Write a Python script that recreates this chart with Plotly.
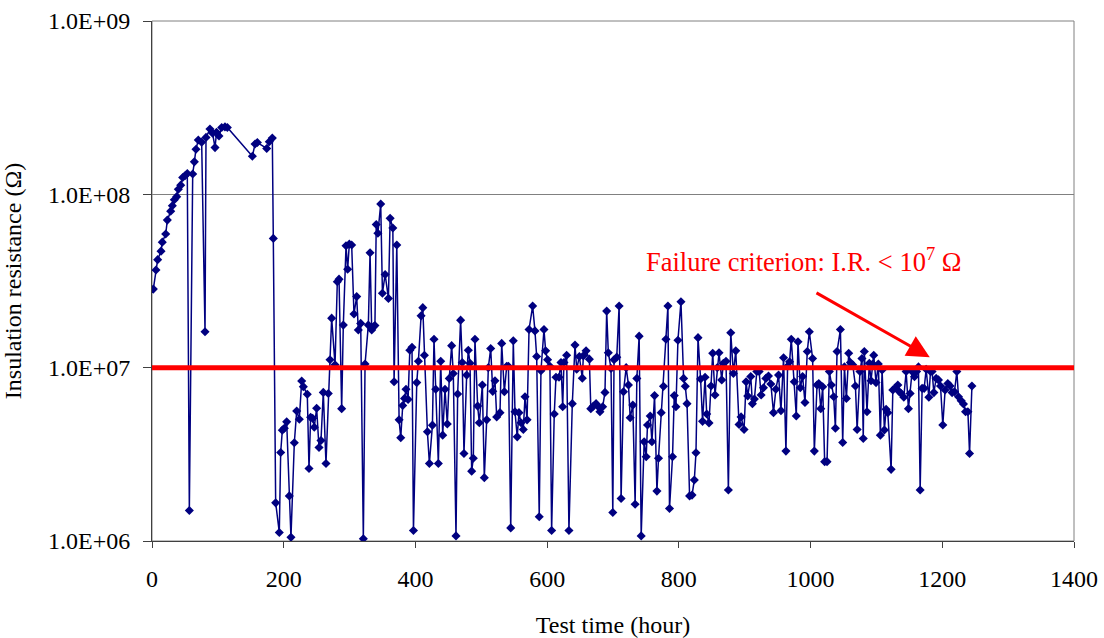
import math
import plotly.graph_objects as go

# Insulation resistance measured during the test (hours, megaohms)
test_hours = [
    2, 6, 8.6, 13.7, 15.6, 20.8, 23.3, 28.4, 30.9, 33.9, 37.5, 40, 43.6, 46.6, 50.1, 53.6,
    56.7, 61.8, 64.3, 66.8, 70.3, 75.4, 80.5, 82, 88, 92, 95.7, 98, 101.7, 105.8, 110.8, 114.4,
    152.4, 156.5, 160, 174.2, 178.1, 182.7, 184.2,
    187.8, 193.3, 195.4, 197.9, 200.9, 204.5, 208.5, 211, 216.1, 219.7, 223.7, 227.3, 229.8,
    235.8, 238.4, 240.9, 244, 246.4, 250, 253.6, 256.6, 260.1, 264.2, 267.7, 270.3, 272.8,
    277.9, 281.4, 284, 288, 290.5, 294.6, 297.1, 299.6, 303.2, 306.7, 310.8, 313.3, 316.9,
    320.9, 323.5, 328.5, 331.1, 333.6, 336.2, 338.5, 340.5, 343, 347.3, 349.9, 354, 359,
    361.6, 365.7, 367.6, 371.7, 375.2, 377.7, 380.7, 383.5, 385.7, 388.8, 391.5, 394.8, 397,
    402, 404.5, 408.6, 411.2, 413.6, 418.2, 421.2, 425.8, 428.2, 430.8, 434.8, 438.4, 441.4,
    444.9, 448.4, 451.4, 455, 457.5, 461.6, 464.1, 468.6, 471.1, 473.7, 477.8, 480.3, 482.9,
    485.4, 487.9, 490.4, 494.5, 497, 501.6, 504.6, 508.2, 510.7, 514.3, 517.4, 520.8, 523.4,
    528.4, 531, 535, 538.6, 541.2, 544.7, 548.6, 551.2, 554.6, 557.2, 560.3, 563.8, 566.4,
    569.5, 572.5, 578, 581.5, 584.1, 588, 590.6, 595.2, 597.7, 600.7, 604.2, 606.8, 610.8,
    613.4, 618, 621, 623.6, 625.5, 629.6, 633.1, 638.2, 642.3, 644.9, 648.9, 653.4, 655,
    659.1, 664.1, 666.3, 670.2, 674.3, 676.8, 680.2, 684.3, 687.8, 690.4, 692.9, 697, 699.7,
    701.6, 705.7, 709.3, 712.3, 715.9, 720, 723.5, 726.1, 730.1, 733.6, 736.2, 739.7, 742.8,
    747.3, 750.4, 752.4, 756.5, 759.1, 763.1, 766.7, 769.1, 773.2, 776.7, 780.4, 783.4, 785.8,
    790.4, 793, 795.6, 798.6, 803.2, 807.2, 809.8, 812.4, 816.3, 820, 823.5, 826, 829.1,
    833, 836, 839.8, 842.3, 845.8, 848.9, 851.4, 854.9, 858.4, 861, 865.1, 867.6, 871.6,
    875.2, 878.8, 882.8, 886.4, 891.4, 894.5, 899, 902.1, 904.6, 909.2, 911.7, 914.7, 918.4,
    921.9, 924.9, 928.5, 932.1, 936.1, 939.7, 943.7, 947.3, 951.4, 955, 959, 962.6, 965.1,
    968.1, 970.7, 975.3, 978.3, 980.9, 984.4, 987.9, 991.5, 995, 998.1, 1003.1, 1005.7, 1009.8,
    1012.5, 1015.5, 1018.4, 1021.4, 1025, 1028.5, 1031.6, 1035.1, 1037.7, 1040.2, 1045.3,
    1048.8, 1051.4, 1054.4, 1057.9, 1060.5, 1064, 1068.1, 1070.7, 1075, 1078, 1080, 1081.6,
    1085.7, 1089.2, 1091.8, 1094.4, 1095.9, 1099.4, 1102.9, 1106, 1108.6, 1112.1, 1114.7,
    1117.3, 1122.3, 1124.9, 1128.8, 1132.5, 1134.9, 1137.5, 1141.6, 1145.1, 1148.6, 1151.2,
    1154.2, 1157.8, 1161, 1163.8, 1166.4, 1169.4, 1172.5, 1175.5, 1179.6, 1182.1, 1184.5,
    1187.2, 1190.7, 1194.2, 1197.3, 1200.8, 1204.3, 1208.4, 1211.9, 1214.9, 1218.5, 1222.1,
    1224.6, 1228.7, 1232.2, 1235.3, 1238.9, 1241.4, 1245,
]

resistance_mohm = [
    28.4, 36.6, 42, 47, 53, 59, 71, 80, 86, 93, 97, 107, 113, 125, 128, 132,
    1.5, 131, 154, 182, 206, 200, 16.1, 213, 238, 225, 186, 228, 217, 243, 245, 243,
    166, 195, 199, 184, 201, 211, 55.7,
    1.66, 1.12, 3.24, 4.36, 4.47, 4.87, 1.82, 1.05, 3.69, 5.62, 5.04, 8.37, 7.77,
    7.02, 2.62, 5.17, 5.1, 4.53, 5.83, 3.46, 3.8, 7.2, 2.8, 7.1, 11.1, 19.3,
    10.4, 31.3, 32.4, 5.8, 17.6, 50.5, 37, 51.6, 51, 20.4, 25.7, 16.5, 18,
    1.03, 10.5, 17.6, 46, 16.5, 17.2, 17.5, 67, 59.6, 88, 26.9, 34.5, 25.1,
    72.7, 64, 8.3, 51, 5.0, 3.94, 6.05, 6.65, 7.5, 6.56, 12.6, 13.1, 1.15,
    8.2, 10.9, 19.9, 22.2, 11.8, 4.27, 2.8, 4.66, 14.6, 7.5, 2.8, 10.9, 4.08,
    7.5, 4.73, 8.67, 13.4, 9.26, 1.07, 7.05, 18.8, 10.7, 3.2, 9.06, 12.6, 10.6,
    2.53, 3.0, 14.6, 6.0, 4.81, 7.94, 2.32, 5.0, 10.0, 12.9, 7.3, 8.4, 5.2,
    5.5, 13.8, 7.26, 10.2, 10.2, 1.19, 14.3, 5.57, 3.99, 5.5, 4.81, 4.4, 6.8,
    5.0, 16.6, 22.7, 16.3, 11.6, 1.38, 9.6, 16.6, 12.5, 11.1, 10.2, 1.15, 5.4,
    8.8, 8.8, 10.7, 5.95, 10.7, 11.8, 1.15, 6.2, 13.5, 9.8, 11.6, 8.7, 11.7,
    12.5, 11.2, 5.8, 6.0, 6.2, 6.0, 5.57, 5.95, 7.2, 21.2, 12.2, 9.9, 1.46,
    11.1, 11.5, 22.7, 1.76, 7.26, 10.0, 7.94, 5.14, 6.08, 1.63, 8.67, 15.2, 1.07,
    3.74, 3.06, 4.67, 5.26, 3.74, 6.9, 1.94, 3.0, 5.5, 7.8, 14.6, 22.7, 1.54,
    3.06, 6.9, 5.95, 14.4, 24.0, 8.67, 7.8, 6.2, 1.82, 1.84, 2.25, 3.23, 14.9,
    8.6, 4.9, 8.8, 5.4, 4.8, 7.84, 12.1, 6.95, 10.0, 12.2, 8.5, 10.6, 10.9,
    1.97, 15.9, 9.26, 12.5, 4.7, 5.2, 4.4, 8.3, 6.86, 8.9, 6.2, 6.6, 9.5,
    9.5, 6.95, 7.66, 8.67, 8.95, 8.05, 5.5, 7.5, 9.06, 5.65, 11.4, 3.3, 10.2,
    10.8, 14.6, 8.3, 5.26, 14.1, 7.66, 8.9, 6.3, 12.4, 16.1, 11.3, 3.3, 7.94,
    8.1, 5.8, 7.76, 2.87, 2.87, 9.5, 7.94, 6.8, 4.47, 12.4, 16.6,
    3.7, 10.1, 6.65, 12.1, 10.7, 10.4, 7.84, 4.4, 9.5, 11.3, 3.9, 12.4,
    5.57, 10.6, 8.4, 10.5, 11.8, 8.2, 10.5, 4.08, 9.7, 4.37, 5.75,
    5.5, 2.59, 7.43, 7.66, 7.94, 7.26, 7.1, 6.75, 9.5, 5.8, 7.1,
    9.5, 8.87, 9.5, 10.1, 1.97, 7.6, 7.6, 9.8, 6.75, 9.5, 9.5,
    7.18, 8.67, 8.5, 7.84, 4.67, 7.43, 8.1, 7.84, 7.18, 7.26, 9.5,
    6.8, 6.44, 6.17, 5.57, 5.57, 3.2, 7.84,
]

resistance_ohm = [v * 1e6 for v in resistance_mohm]

# Failure threshold and axis labelling
failure_limit = 1e7
x_ticks = [0, 200, 400, 600, 800, 1000, 1200, 1400]
y_tick_values = [1e6, 1e7, 1e8, 1e9]
y_tick_labels = ["1.0E+06", "1.0E+07", "1.0E+08", "1.0E+09"]

# Annotation arrow: from the label towards the threshold line
arrow_tail = (1006.7, 2.73e7)
arrow_tip = (1181, 1.15e7)
label_pos = (988.5, 4.2e7)

serif = "Liberation Serif, Times New Roman, serif"
navy = "#000080"

fig = go.Figure()

fig.add_trace(go.Scatter(
    x=test_hours,
    y=resistance_ohm,
    mode="lines+markers",
    line=dict(color=navy, width=1.5),
    marker=dict(symbol="diamond", size=7, color=navy),
    showlegend=False,
    hoverinfo="x+y",
))

# Plot-area frame (gray)
fig.add_shape(type="rect", xref="paper", yref="paper", x0=0, x1=1, y0=0, y1=1,
              line=dict(color="#808080", width=1), layer="below")

# Failure criterion line
fig.add_shape(type="line", xref="x", yref="y",
              x0=x_ticks[0], x1=x_ticks[-1], y0=failure_limit, y1=failure_limit,
              line=dict(color="#FF0000", width=5), layer="above")

fig.add_annotation(
    x=arrow_tip[0], y=math.log10(arrow_tip[1]),
    ax=arrow_tail[0], ay=math.log10(arrow_tail[1]),
    xref="x", yref="y", axref="x", ayref="y",
    text="", showarrow=True,
    arrowhead=2, arrowsize=1.5, arrowwidth=3, arrowcolor="#FF0000",
)

fig.add_annotation(
    x=label_pos[0], y=math.log10(label_pos[1]),
    xref="x", yref="y",
    text="Failure criterion: I.R. < 10<sup>7</sup> Ω",
    showarrow=False,
    font=dict(family=serif, size=26.5, color="#FF0000"),
    xanchor="center", yanchor="middle",
)

fig.update_xaxes(
    range=[x_ticks[0], x_ticks[-1]],
    tickvals=x_ticks,
    ticks="outside", ticklen=6, tickwidth=1, tickcolor="#404040",
    showline=True, linecolor="#404040", linewidth=1,
    showgrid=False, zeroline=False,
    tickfont=dict(family=serif, size=24, color="black"),
    ticklabelstandoff=10,
    automargin=False,
    title=dict(text="Test time (hour)", font=dict(family=serif, size=24, color="black"),
               standoff=26),
)

fig.update_yaxes(
    type="log",
    range=[6, 9],
    tickvals=y_tick_values,
    ticktext=y_tick_labels,
    ticks="outside", ticklen=8, tickwidth=1, tickcolor="#404040",
    showline=True, linecolor="#404040", linewidth=1,
    showgrid=True, gridcolor="#808080", gridwidth=1,
    zeroline=False,
    tickfont=dict(family=serif, size=24, color="black"),
    ticklabelstandoff=8,
    automargin=False,
    title=dict(text="Insulation resistance (Ω)", font=dict(family=serif, size=24, color="black"),
               standoff=22),
)

fig.update_layout(
    width=1104, height=638,
    margin=dict(l=152, r=30, t=21, b=97),
    plot_bgcolor="white", paper_bgcolor="white",
    showlegend=False,
)

fig.write_html("out.html")
